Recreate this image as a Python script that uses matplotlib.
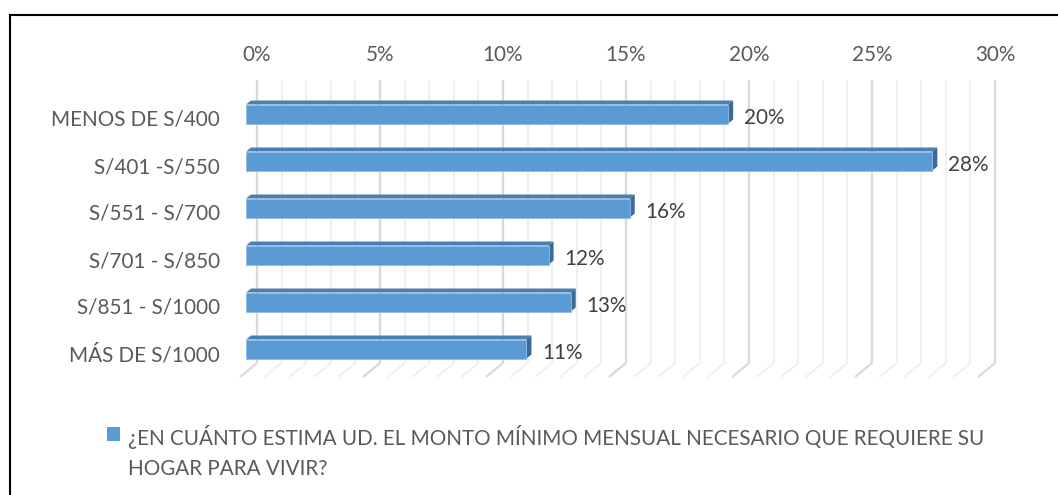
import matplotlib
matplotlib.use("Agg")
import matplotlib.pyplot as plt
from matplotlib.patches import Polygon, Rectangle
import numpy as np

categories = ["MENOS DE S/400", "S/401 -S/550", "S/551 - S/700",
              "S/701 - S/850", "S/851 - S/1000", "MÁS DE S/1000"]
values = [19.6, 27.9, 15.6, 12.3, 13.2, 11.4]
labels = ["20%", "28%", "16%", "12%", "13%", "11%"]
xticks = [0, 5, 10, 15, 20, 25, 30]
xticklabels = ["0%", "5%", "10%", "15%", "20%", "25%", "30%"]
legend_text = "¿EN CUÁNTO ESTIMA UD. EL MONTO MÍNIMO MENSUAL NECESARIO QUE REQUIERE SU\nHOGAR PARA VIVIR?"

W, H = 1058, 495
fig = plt.figure(figsize=(W / 100, H / 100), dpi=100)
FONT = "Lato"
TXT = "#595959"
FS = 14.9

# front plane geometry (pixels)
x0_px, x30_px = 246, 984
pxx = (x30_px - x0_px) / 30.0         # px per percent
yc0, dy_cat = 114, 47.0               # first bar centre, spacing
top_px, bot_px = 94, 377
ymin = (top_px - yc0) / dy_cat
ymax = (bot_px - yc0) / dy_cat
ax = fig.add_axes([x0_px / W, 1 - bot_px / H, (x30_px - x0_px) / W, (bot_px - top_px) / H])
ax.set_xlim(0, 30)
ax.set_ylim(ymax, ymin)
ax.axis("off")

# back wall offset
bdx = 11 / pxx
bdy = -14 / dy_cat
# grid lines (1% minor, 5% major)
for g in range(0, 31):
    col = "#d9d9d9" if g % 5 == 0 else "#efefef"
    lw = 1.6 if g % 5 == 0 else 1.4
    xb = g + bdx
    ax.plot([xb, xb], [ymin + bdy, ymax + bdy], color=col, lw=lw, zorder=1,
            solid_capstyle="butt", clip_on=False)
    ax.plot([xb, g - 6 / pxx], [ymax + bdy, ymax], color=col, lw=lw, zorder=1,
            solid_capstyle="butt", clip_on=False)

# bars with 3D faces
h = 19 / dy_cat
ddx = 5 / pxx
ddy = 4 / dy_cat
for i, (v, lab) in enumerate(zip(values, labels)):
    top = i - h / 2
    bot = i + h / 2
    ax.add_patch(Polygon([(0, top), (v, top), (v + ddx, top - ddy), (ddx, top - ddy)],
                         closed=True, facecolor="#4a7fb3", edgecolor="none", zorder=3))
    ax.add_patch(Polygon([(v, top), (v + ddx, top - ddy), (v + ddx, bot - ddy), (v, bot)],
                         closed=True, facecolor="#3b6a96", edgecolor="none", zorder=3))
    ax.add_patch(Rectangle((0, top), v, h, facecolor="#5b9bd5", edgecolor="#8fbbe4",
                           lw=0.6, zorder=4))
    ax.text(v + 16 / pxx, i + 4 / dy_cat, lab, ha="left", va="center", fontsize=FS,
            color="#404040", family=FONT, zorder=5)

# category labels
for i, c in enumerate(categories):
    ax.text(-26 / pxx, i + 6 / dy_cat, c, ha="right", va="center", fontsize=FS,
            color=TXT, family=FONT)

# x tick labels on top (back plane)
for t, tl in zip(xticks, xticklabels):
    ax.text(t + bdx, ymin - 39 / dy_cat, tl, ha="center", va="center",
            fontsize=FS, color=TXT, family=FONT, clip_on=False)

# legend
fig.patches.append(Rectangle((107 / W, 1 - 441 / H), 13 / W, 14 / H, transform=fig.transFigure,
                             facecolor="#5b9bd5", edgecolor="none"))
fig.text(128 / W, 1 - 452 / H, legend_text, ha="left", va="center", fontsize=FS,
         color=TXT, family=FONT, linespacing=1.6)

# outer border (left and top)
fig.add_artist(plt.Line2D([10 / W, 10 / W], [0, 1 - 15 / H], color="black", lw=1.5,
                          transform=fig.transFigure))
fig.add_artist(plt.Line2D([10 / W, 1], [1 - 15 / H, 1 - 15 / H], color="black", lw=1.5,
                          transform=fig.transFigure))

fig.savefig("out.png", dpi=100)
